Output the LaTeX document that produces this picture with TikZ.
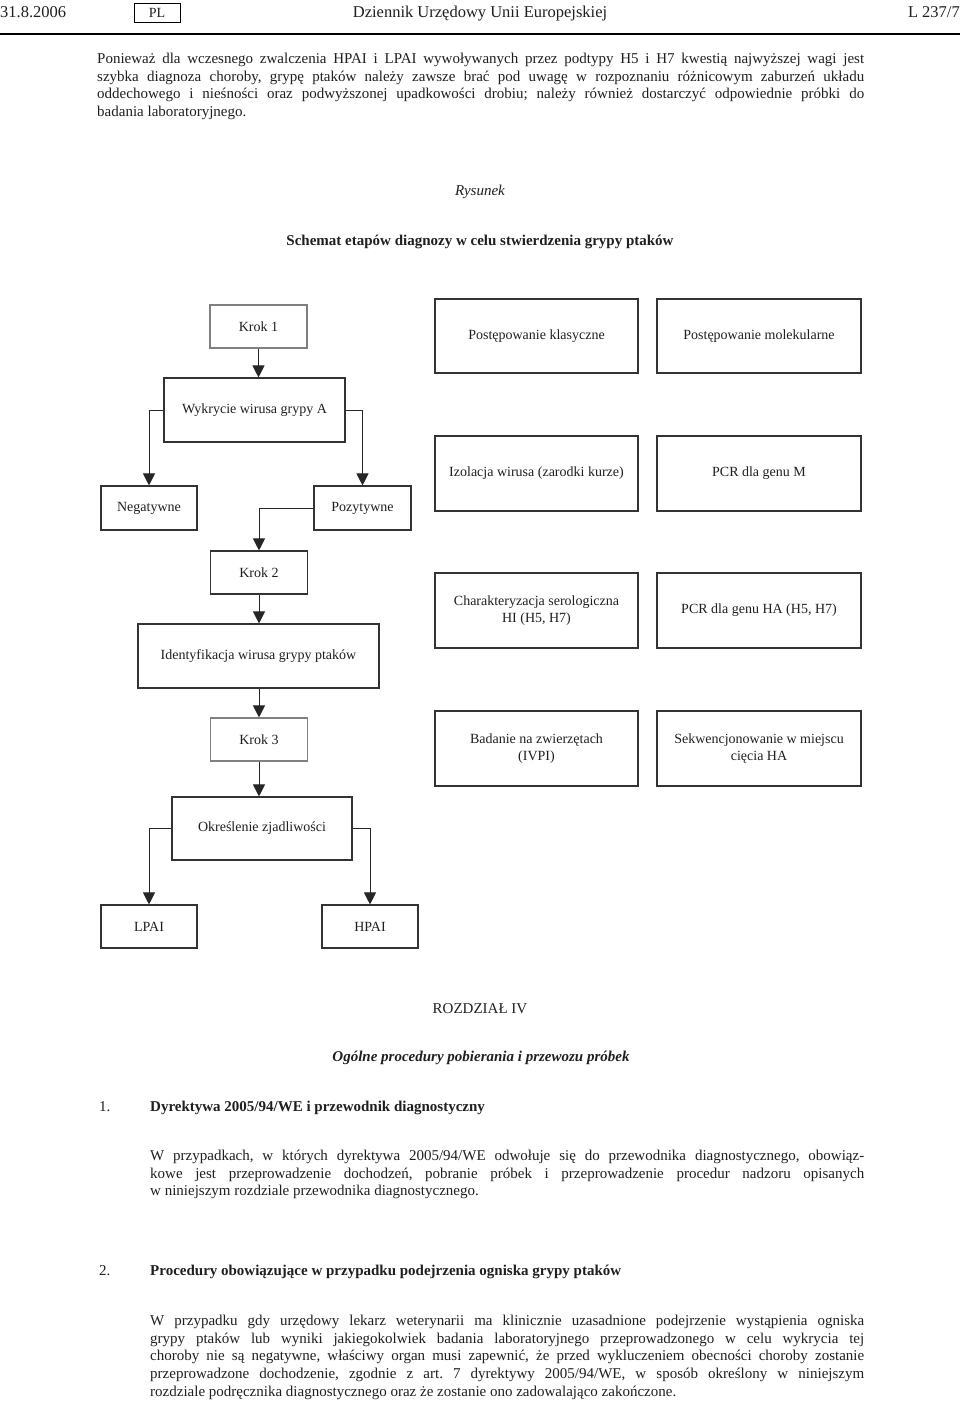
\documentclass[tikz,border=0pt]{standalone}
\usepackage{fontspec}
\setmainfont{Liberation Serif}
\usetikzlibrary{positioning}
\usetikzlibrary{calc}
\usetikzlibrary{arrows.meta}
\frenchspacing

\begin{document}
\begin{tikzpicture}
  [x=1pt, y=-1pt,
   every node/.style = {inner sep=0pt, text=black!88},
   box/.style = {rectangle, draw=black!80, line width=1.1pt, align=center,
                 font=\fontsize{14}{16.5}\selectfont},
   stepbox/.style = {box, draw=black!50, minimum width=97pt, minimum height=43pt},
   wide/.style = {box, minimum width=203pt, minimum height=75pt},
   result/.style = {box, minimum width=96pt, minimum height=44pt},
   arr/.style = {draw=black!85, line width=1pt, -{Triangle[width=12pt, length=12pt]}},
   body/.style = {font=\fontsize{15}{17.6}\selectfont, align=justify, anchor=north west},
   plain/.style = {anchor=base, font=\fontsize{15}{17.6}\selectfont},
   head/.style = {anchor=base, font=\fontsize{16.5}{18}\selectfont}]
  \useasboundingbox (0,0) rectangle (960,1402);

  % header
  \node [head, anchor=base west] (date) at (0,18) {31.8.2006};
  \node [draw, line width=0.8pt, minimum width=46pt, minimum height=19pt,
         font=\fontsize{14}{16}\selectfont] (lang) at (157,12.5) {PL};
  \node [head] (journal) at (480,18) {Dziennik Urzędowy Unii Europejskiej};
  \node [head, anchor=base east] (page) at (960,18) {L 237/7};
  \draw [line width=1.2pt] (0,34) -- (960,34);

  \node [body, text width=767pt] (intro) at (97,53) {Ponieważ dla wczesnego zwalczenia HPAI i LPAI wywoływanych przez podtypy H5 i H7 kwestią najwyższej wagi jest\linebreak
    szybka diagnoza choroby, grypę ptaków należy zawsze brać pod uwagę w rozpoznaniu różnicowym zaburzeń układu\linebreak
    oddechowego i nieśności oraz podwyższonej upadkowości drobiu; należy również dostarczyć odpowiednie próbki do\linebreak
    badania laboratoryjnego.};

  \node [plain, font={\fontsize{15}{17.6}\selectfont\itshape}] (fig) at (480,195) {Rysunek};
  \node [plain, font={\fontsize{15}{17.6}\selectfont\bfseries}] (figtitle) at (480,245) {Schemat etapów diagnozy w celu stwierdzenia grypy ptaków};

  % left column
  \node [stepbox] (krok1) at (258.5,326.5) {Krok 1};
  \node [box, minimum width=181pt, minimum height=64pt] (wyk) at (254.5,410) {Wykrycie wirusa grypy A};
  \node [result] (neg) at (149,508) {Negatywne};
  \node [result, minimum width=97pt] (poz) at (362.5,508) {Pozytywne};
  \node [stepbox, draw=black!80] (krok2) at (259,572.5) {Krok 2};
  \node [box, minimum width=241pt, minimum height=64pt] (ident) at (258.5,656) {Identyfikacja wirusa grypy ptaków};
  \node [stepbox] (krok3) at (259,739.5) {Krok 3};
  \node [box, minimum width=180pt, minimum height=63pt] (okr) at (262,828.5) {Określenie zjadliwości};
  \node [result, minimum height=43pt] (lpai) at (149,926.5) {LPAI};
  \node [result, minimum height=43pt] (hpai) at (370,926.5) {HPAI};

  % right columns
  \node [wide, minimum height=74pt] (klas) at (536.5,336) {Postępowanie klasyczne};
  \node [wide, minimum width=204pt, minimum height=74pt] (mol) at (759,336) {Postępowanie molekularne};
  \node [wide] (izol) at (536.5,473.5) {Izolacja wirusa (zarodki kurze)};
  \node [wide, minimum width=204pt] (pcrm) at (759,473.5) {PCR dla genu M};
  \node [wide] (char) at (536.5,610.5) {Charakteryzacja serologiczna\\HI (H5, H7)};
  \node [wide, minimum width=204pt] (pcrha) at (759,610.5) {PCR dla genu HA (H5, H7)};
  \node [wide] (bad) at (536.5,748.5) {Badanie na zwierzętach\\(IVPI)};
  \node [wide, minimum width=204pt] (sekw) at (759,748.5) {Sekwencjonowanie w miejscu\\cięcia HA};

  \draw [arr] (krok1) -- (krok1 |- wyk.north);
  \draw [arr] (wyk.west) -| (neg.north);
  \draw [arr] (wyk.east) -| (poz.north);
  \draw [arr] (poz.west) -| (krok2.north);
  \draw [arr] (krok2) -- (krok2 |- ident.north);
  \draw [arr] (krok3 |- ident.south) -- (krok3.north);
  \draw [arr] (krok3) -- (krok3 |- okr.north);
  \draw [arr] (okr.west) -| (lpai.north);
  \draw [arr] (okr.east) -| (hpai.north);

  % chapter IV
  \node [plain] (chapter) at (480,1013) {ROZDZIAŁ IV};
  \node [plain, font={\fontsize{15}{17.6}\selectfont\bfseries\itshape}] (chaptitle) at (481,1061) {Ogólne procedury pobierania i przewozu próbek};

  \node [plain, anchor=base west] (num1) at (99,1111) {1.};
  \node [plain, anchor=base west, font={\fontsize{15}{17.6}\selectfont\bfseries}] (head1) at (150,1111) {Dyrektywa 2005/94/WE i przewodnik diagnostyczny};
  \node [body, text width=714pt] (text1) at (150,1150) {W przypadkach, w których dyrektywa 2005/94/WE odwołuje się do przewodnika diagnostycznego, obowiąz-\linebreak
    kowe jest przeprowadzenie dochodzeń, pobranie próbek i przeprowadzenie procedur nadzoru opisanych\linebreak
    w niniejszym rozdziale przewodnika diagnostycznego.};

  \node [plain, anchor=base west] (num2) at (99,1275) {2.};
  \node [plain, anchor=base west, font={\fontsize{15}{17.6}\selectfont\bfseries}] (head2) at (150,1275) {Procedury obowiązujące w przypadku podejrzenia ogniska grypy ptaków};
  \node [body, text width=714pt] (text2) at (150,1315) {W przypadku gdy urzędowy lekarz weterynarii ma klinicznie uzasadnione podejrzenie wystąpienia ogniska\linebreak
    grypy ptaków lub wyniki jakiegokolwiek badania laboratoryjnego przeprowadzonego w celu wykrycia tej\linebreak
    choroby nie są negatywne, właściwy organ musi zapewnić, że przed wykluczeniem obecności choroby zostanie\linebreak
    przeprowadzone dochodzenie, zgodnie z art. 7 dyrektywy 2005/94/WE, w sposób określony w niniejszym\linebreak
    rozdziale podręcznika diagnostycznego oraz że zostanie ono zadowalająco zakończone.};
\end{tikzpicture}
\end{document}
